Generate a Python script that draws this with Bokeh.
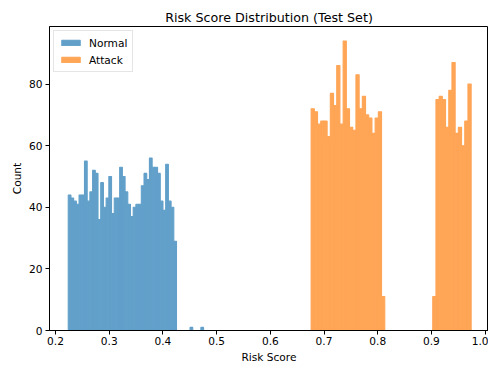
import numpy as np
from bokeh.plotting import figure
from bokeh.models import FixedTicker, ColumnDataSource, Range1d
from bokeh.embed import file_html
from bokeh.resources import INLINE

# ---- data ----
normal_range = (0.2237, 0.4757)
normal_counts = [44, 43, 42, 41, 44, 44, 55, 42, 45, 52,
                 51, 36, 48, 40, 43, 50, 38, 43, 43, 53,
                 50, 45, 41, 37, 40, 41, 41, 47, 51, 49,
                 56, 53, 53, 51, 42, 39, 54, 42, 40, 29,
                 0, 0, 0, 0, 0, 1, 0, 0, 0, 1]
attack_range = (0.676, 0.974)
attack_counts = [72, 71, 67, 68, 68, 63, 77, 73, 86, 67,
                 94, 72, 66, 65, 83, 72, 76, 70, 69, 64,
                 69, 71, 11, 0, 0, 0, 0, 0, 0, 0,
                 0, 0, 0, 0, 0, 0, 0, 0, 11, 75,
                 76, 75, 66, 78, 87, 64, 66, 60, 68, 80]
x_ticks = [0.2, 0.3, 0.4, 0.5, 0.6, 0.7, 0.8, 0.9, 1.0]
x_tick_labels = ["0.2", "0.3", "0.4", "0.5", "0.6", "0.7", "0.8", "0.9", "1.0"]
y_ticks = [0, 20, 40, 60, 80]

FONT = "DejaVu Sans"
BLUE = "#62a0ca"    # tab:blue at alpha 0.7 on white
ORANGE = "#ffa556"  # tab:orange at alpha 0.7 on white


def hist_source(rng, counts):
    edges = np.linspace(rng[0], rng[1], len(counts) + 1)
    c = np.array(counts, dtype=float)
    keep = c > 0
    return ColumnDataSource(dict(left=edges[:-1][keep], right=edges[1:][keep],
                                 top=c[keep], bottom=np.zeros(keep.sum())))


p = figure(width=488, height=365, output_backend="svg", toolbar_location=None,
           x_range=Range1d(0.1888, 1.0063), y_range=Range1d(0, 98.7),
           title="Risk Score Distribution (Test Set)",
           min_border_left=49, min_border_right=0, min_border_top=26, min_border_bottom=34)

p.quad(left="left", right="right", top="top", bottom="bottom",
       source=hist_source(normal_range, normal_counts),
       fill_color=BLUE, line_color=BLUE, line_width=1.1, legend_label="Normal")
p.quad(left="left", right="right", top="top", bottom="bottom",
       source=hist_source(attack_range, attack_counts),
       fill_color=ORANGE, line_color=ORANGE, line_width=1.1, legend_label="Attack")

p.title.align = "center"
p.title.text_font = FONT
p.title.text_font_size = "12.7px"
p.title.text_font_style = "normal"
p.title.text_color = "black"
p.title.standoff = 4

p.grid.visible = False
p.outline_line_color = "black"
p.outline_line_alpha = 1.0
p.outline_line_width = 1

for ax in (p.xaxis[0], p.yaxis[0]):
    ax.axis_line_color = "black"
    ax.major_tick_line_color = "black"
    ax.major_tick_out = 4
    ax.major_tick_in = 0
    ax.minor_tick_line_color = None
    ax.major_label_text_font = FONT
    ax.major_label_text_font_size = "10.6px"
    ax.major_label_text_color = "black"
    ax.axis_label_text_font = FONT
    ax.axis_label_text_font_size = "10.6px"
    ax.axis_label_text_font_style = "normal"
    ax.axis_label_text_color = "black"

p.xaxis.ticker = FixedTicker(ticks=x_ticks)
p.xaxis.major_label_overrides = {t: s for t, s in zip(x_ticks, x_tick_labels)}
p.xaxis.axis_label = "Risk Score"
p.xaxis.major_label_standoff = 2
p.xaxis.axis_label_standoff = 3

p.yaxis.ticker = FixedTicker(ticks=y_ticks)
p.yaxis.axis_label = "Count"
p.yaxis.major_label_standoff = 3
p.yaxis.axis_label_standoff = 3

lg = p.legend[0]
lg.location = "top_left"
lg.margin = 4
lg.padding = 5
lg.spacing = 4
lg.glyph_width = 23
lg.glyph_height = 7
lg.label_height = 13
lg.label_standoff = 7
lg.label_text_font = FONT
lg.label_text_font_size = "10.6px"
lg.label_text_color = "black"
lg.border_line_color = "#cccccc"
lg.border_line_width = 1
lg.background_fill_alpha = 0.8

open("out.html", "w").write(file_html(p, INLINE))
